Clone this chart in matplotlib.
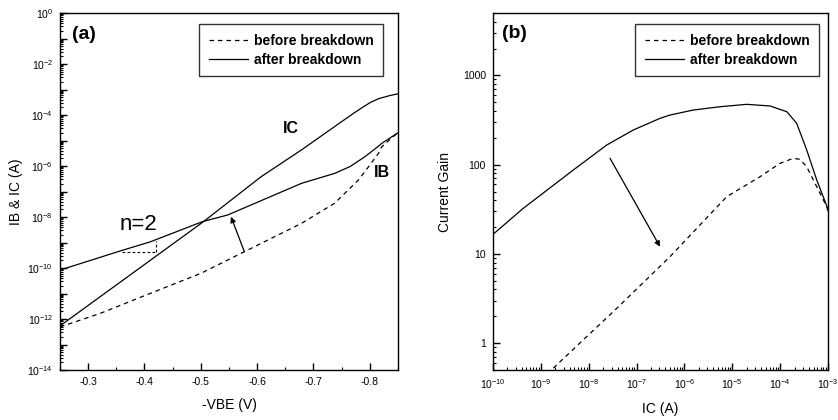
import matplotlib
matplotlib.use('Agg')
import matplotlib.pyplot as plt
import numpy as np
from matplotlib.ticker import LogLocator, FuncFormatter, MultipleLocator, NullFormatter

plt.rcParams['font.family'] = ['Liberation Sans', 'DejaVu Sans']
plt.rcParams['mathtext.fontset'] = 'custom'
plt.rcParams['mathtext.rm'] = 'Liberation Sans'
plt.rcParams['mathtext.default'] = 'regular'
plt.rcParams['axes.unicode_minus'] = False
plt.rcParams['axes.linewidth'] = 1.0

# (a) Gummel plot (x = VBE in V, y = log10 of current)
vbe_ic = [-0.25, -0.5036, -0.607, -0.6786, -0.75, -0.772, -0.7857, -0.80, -0.8155, -0.835, -0.8536]
log_ic = [-12.27, -8.20, -6.42, -5.37, -4.26, -3.92, -3.72, -3.52, -3.36, -3.24, -3.15]

vbe_ib_after = [-0.25, -0.357, -0.4107, -0.503, -0.5477, -0.6786, -0.7375, -0.765,
                -0.791, -0.808, -0.8214, -0.8518]
log_ib_after = [-10.08, -9.33, -8.97, -8.18, -7.92, -6.68, -6.29, -6.02,
                -5.64, -5.35, -5.11, -4.67]

vbe_ib_before = [-0.25, -0.3214, -0.4107, -0.5, -0.5773, -0.6786, -0.7375, -0.7798,
                 -0.7977, -0.8155, -0.8214, -0.8452, -0.8536]
log_ib_before = [-12.31, -11.78, -10.99, -10.21, -9.36, -8.25, -7.46, -6.55,
                 -6.03, -5.50, -5.24, -4.78, -4.63]

# (b) current gain vs IC (log10 values)
log_ic_after = [-10.0, -9.367, -8.322, -7.624, -7.07, -6.51, -6.30, -5.815, -5.257,
                -4.70, -4.21, -3.86, -3.655, -3.445, -3.236, -2.994]
log_gain_after = [1.219, 1.511, 1.94, 2.22, 2.388, 2.519, 2.556, 2.612, 2.649,
                  2.676, 2.657, 2.593, 2.463, 2.164, 1.828, 1.492]

log_ic_before = [-8.74, -7.415, -6.30, -5.117, -4.42, -4.003, -3.725, -3.586,
                 -3.446, -3.236, -3.027, -2.994]
log_gain_before = [-0.28, 0.39, 0.97, 1.641, 1.865, 2.015, 2.071, 2.06,
                   1.977, 1.753, 1.529, 1.469]

dash = (0, (3.6, 3.2))
tick_fs = 7.5

fig = plt.figure(figsize=(8.38, 4.2), dpi=100)
ax1 = fig.add_axes([0.0716, 0.119, 0.4033, 0.85])
ax2 = fig.add_axes([0.5883, 0.119, 0.3998, 0.85])

# ---- panel (a)
ax1.plot(vbe_ib_before, 10 ** np.array(log_ib_before), color='k', lw=0.9, ls=dash,
         label='before breakdown')
ax1.plot(vbe_ic, 10 ** np.array(log_ic), color='k', lw=0.9, label='after breakdown')
ax1.plot(vbe_ib_after, 10 ** np.array(log_ib_after), color='k', lw=0.9)

# n=2 slope triangle
ax1.plot([-0.360, -0.4196], [10 ** -9.36, 10 ** -9.36], color='k', lw=0.8, ls=(0, (2.5, 2)))
ax1.plot([-0.4196, -0.4196], [10 ** -9.36, 10 ** -8.95], color='k', lw=0.8, ls=(0, (2.5, 2)))
ax1.text(-0.389, 10 ** -8.31, 'n=2', fontsize=16, ha='center', va='center')

ax1.annotate('', xy=(-0.5536, 10 ** -7.99), xytext=(-0.5773, 10 ** -9.36),
             arrowprops=dict(arrowstyle='-|>', color='k', lw=0.9, mutation_scale=8,
                             shrinkA=0, shrinkB=0))
ax1.text(-0.6607, 10 ** -4.52, 'IC', fontsize=11.5, fontweight='bold', ha='center', va='center')
ax1.text(-0.8214, 10 ** -6.27, 'IB', fontsize=11.5, fontweight='bold', ha='center', va='center')
ax1.text(0.036, 0.941, '(a)', transform=ax1.transAxes, fontsize=14, fontweight='bold',
         ha='left', va='center')

ax1.set_yscale('log')
ax1.set_xlim(-0.25, -0.85)
ax1.set_ylim(1e-14, 1)
ax1.xaxis.set_major_locator(MultipleLocator(0.1))
ax1.xaxis.set_minor_locator(MultipleLocator(0.05))
ax1.xaxis.set_major_formatter(FuncFormatter(lambda v, p: f'{v:.1f}'))
ax1.yaxis.set_major_locator(LogLocator(base=10, numticks=30))
ax1.yaxis.set_minor_locator(LogLocator(base=10, subs=np.arange(2, 10), numticks=30))
ax1.yaxis.set_major_formatter(FuncFormatter(
    lambda v, p: f'$10^{{{int(round(np.log10(v)))}}}$' if int(round(np.log10(v))) % 2 == 0 else ''))
ax1.yaxis.set_minor_formatter(NullFormatter())
ax1.set_xlabel('-VBE (V)', fontsize=10, labelpad=8)
ax1.set_ylabel('IB & IC (A)', fontsize=10, labelpad=3)

leg1 = ax1.legend(loc='upper right', bbox_to_anchor=(0.956, 0.969),
                  prop={'weight': 'bold', 'size': 10}, frameon=True, fancybox=False,
                  edgecolor='k', handlelength=2.8, handletextpad=0.4, borderpad=0.7,
                  labelspacing=0.35, borderaxespad=0)
leg1.get_frame().set_linewidth(1.0)

# ---- panel (b)
ax2.plot(10 ** np.array(log_ic_before), 10 ** np.array(log_gain_before), color='k', lw=0.9,
         ls=dash, label='before breakdown')
ax2.plot(10 ** np.array(log_ic_after), 10 ** np.array(log_gain_after), color='k', lw=0.9,
         label='after breakdown')
ax2.annotate('', xy=(10 ** -6.51, 10 ** 1.081), xytext=(10 ** -7.555, 10 ** 2.071),
             arrowprops=dict(arrowstyle='-|>', color='k', lw=0.9, mutation_scale=8,
                             shrinkA=0, shrinkB=0))
ax2.text(0.027, 0.944, '(b)', transform=ax2.transAxes, fontsize=14, fontweight='bold',
         ha='left', va='center')

ax2.set_xscale('log')
ax2.set_yscale('log')
ax2.set_xlim(1e-10, 1e-3)
ax2.set_ylim(0.5, 5000)
ax2.xaxis.set_major_locator(LogLocator(base=10, numticks=20))
ax2.xaxis.set_minor_locator(LogLocator(base=10, subs=np.arange(2, 10), numticks=20))
ax2.xaxis.set_major_formatter(FuncFormatter(lambda v, p: f'$10^{{{int(round(np.log10(v)))}}}$'))
ax2.xaxis.set_minor_formatter(NullFormatter())
ax2.yaxis.set_major_locator(LogLocator(base=10, numticks=20))
ax2.yaxis.set_minor_locator(LogLocator(base=10, subs=np.arange(2, 10), numticks=20))
ax2.yaxis.set_major_formatter(FuncFormatter(lambda v, p: f'{v:g}'))
ax2.yaxis.set_minor_formatter(NullFormatter())
ax2.set_xlabel('IC (A)', fontsize=10, labelpad=8)
ax2.set_ylabel('Current Gain', fontsize=10, labelpad=8)

leg2 = ax2.legend(loc='upper right', bbox_to_anchor=(0.973, 0.969),
                  prop={'weight': 'bold', 'size': 10}, frameon=True, fancybox=False,
                  edgecolor='k', handlelength=2.8, handletextpad=0.4, borderpad=0.7,
                  labelspacing=0.35, borderaxespad=0)
leg2.get_frame().set_linewidth(1.0)

for ax in (ax1, ax2):
    ax.tick_params(which='both', direction='in', top=False, right=False,
                   labelsize=tick_fs, pad=5)
    ax.tick_params(which='major', length=5, width=1.0)
    ax.tick_params(which='minor', length=2.5, width=0.8)

fig.savefig('out.png', dpi=100)
